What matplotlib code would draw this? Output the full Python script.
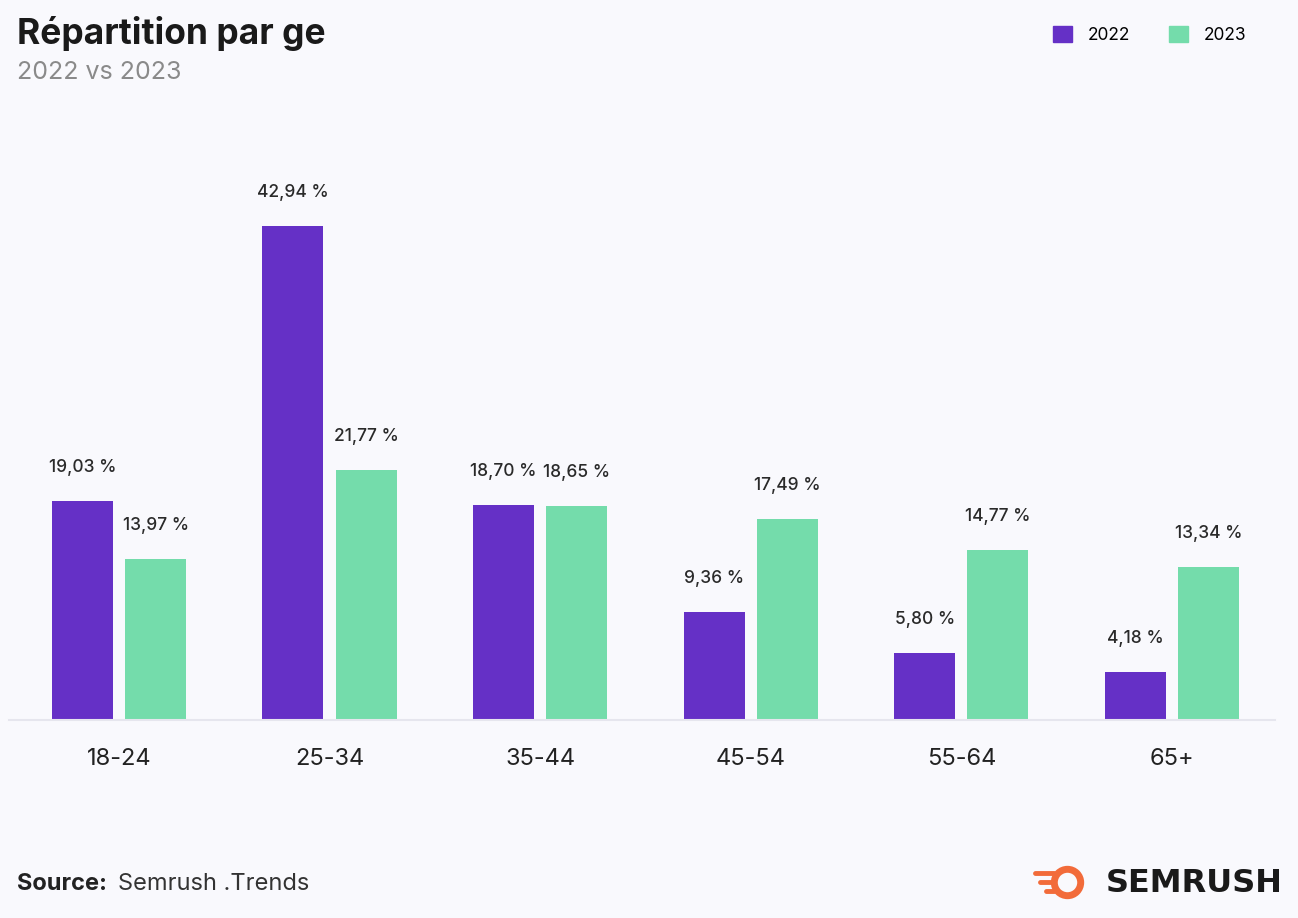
import numpy as np
import matplotlib.pyplot as plt
from matplotlib.patches import Patch
from matplotlib.lines import Line2D

plt.rcParams['font.family'] = ['Inter', 'DejaVu Sans']

ages = ['18-24', '25-34', '35-44', '45-54', '55-64', '65+']
share_2022 = [19.03, 42.94, 18.70, 9.36, 5.80, 4.18]
share_2023 = [13.97, 21.77, 18.65, 17.49, 14.77, 13.34]
years = ['2022', '2023']

purple = '#6530c6'
green = '#74dcab'
orange = '#f26b3a'
bg = '#f9f9fd'

fig = plt.figure(figsize=(12.98, 9.18), dpi=100, facecolor=bg)
ax = fig.add_axes([0.0073, 0.2157, 0.975, 0.5637])
ax.set_facecolor(bg)

x = np.arange(len(ages))
w = 0.29
off = 0.174
b1 = ax.bar(x - off, share_2022, w, color=purple)
b2 = ax.bar(x + off, share_2023, w, color=green)

def fmt(v):
    return f'{v:.2f}'.replace('.', ',') + ' %'

for bars, vals in [(b1, share_2022), (b2, share_2023)]:
    for b, v in zip(bars, vals):
        ax.annotate(fmt(v), (b.get_x() + b.get_width() / 2, v),
                    xytext=(0, 18), textcoords='offset points',
                    ha='center', va='bottom', fontsize=12.5,
                    fontweight='medium', color='#2a2a2a')

ax.set_xlim(-0.52, 5.49)
ax.set_ylim(0, 45)
ax.set_xticks(x)
ax.set_xticklabels(ages, fontsize=17, color='#222222')
ax.tick_params(axis='x', length=0, pad=20)
ax.set_yticks([])
for s in ['top', 'right', 'left']:
    ax.spines[s].set_visible(False)
ax.spines['bottom'].set_color('#e6e6ee')
ax.spines['bottom'].set_linewidth(1.5)

fig.text(0.013, 0.963, 'Répartition par ge', fontsize=25.5, fontweight='bold',
         color='#1a1a1a', va='center')
fig.text(0.013, 0.921, '2022 vs 2023', fontsize=18, color='#8a8a8a', va='center')

handles = [Patch(color=purple), Patch(color=green)]
fig.legend(handles, years, loc='center right', bbox_to_anchor=(0.972, 0.962),
           ncol=2, frameon=False, fontsize=12.5, handlelength=1.1, handleheight=1.1,
           columnspacing=2.2, handletextpad=0.9)

fig.text(0.013, 0.037, 'Source:', fontsize=17, fontweight='bold', color='#222222',
         va='center')
fig.text(0.091, 0.037, 'Semrush .Trends', fontsize=17, color='#333333', va='center')

# logo
fig.add_artist(Line2D([0.822], [0.039], marker='o', markersize=19, markeredgewidth=5,
                      markeredgecolor=orange, markerfacecolor=bg,
                      transform=fig.transFigure))
for dy, x0 in [(0.010, 0.797), (0.0, 0.801), (-0.010, 0.806)]:
    fig.add_artist(Line2D([x0, 0.812], [0.039 + dy, 0.039 + dy], color=orange,
                          lw=3.5, solid_capstyle='round', transform=fig.transFigure))
fig.text(0.988, 0.038, 'SEMRUSH', fontsize=23, fontweight='bold', color='#1a1a1a',
         va='center', ha='right', family='DejaVu Sans')

fig.savefig('out.png', dpi=100, facecolor=bg)
